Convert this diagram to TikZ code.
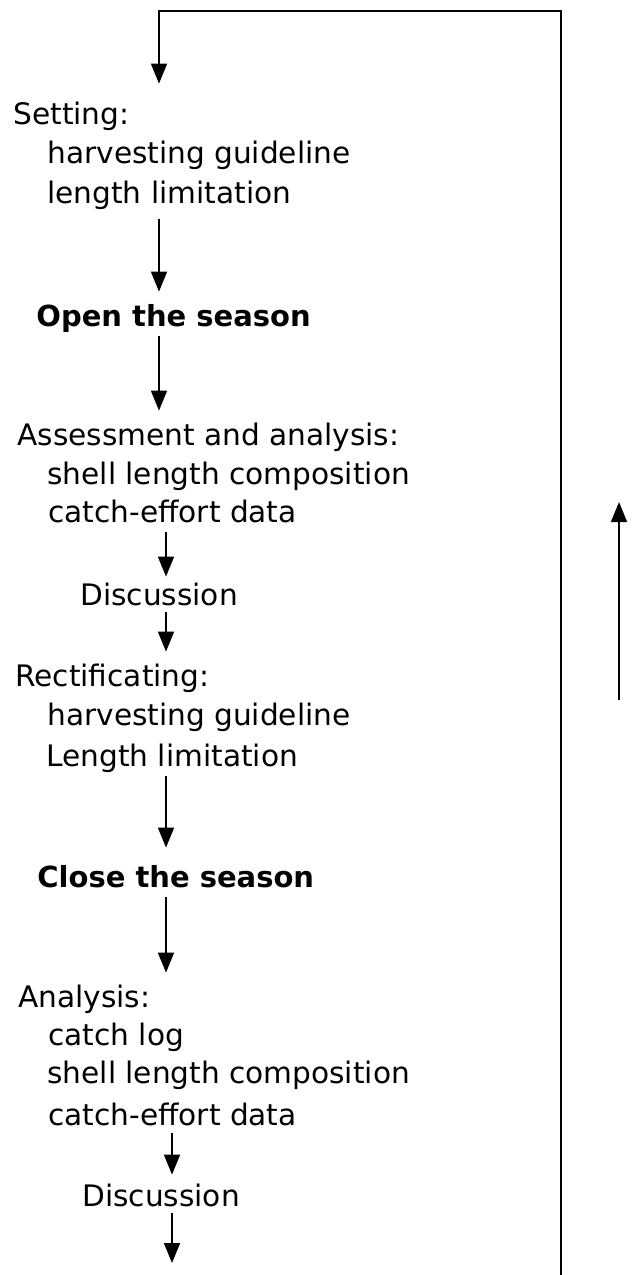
\documentclass[tikz,border=0pt]{standalone}
\usepackage{fontspec}
\setmainfont{DejaVu Sans}
\usetikzlibrary{arrows.meta}

\tikzset{
  txt/.style={anchor=base west, inner sep=0pt, font=\fontsize{14.8}{17}\selectfont,
    text height=11pt, text depth=3.5pt},
  hdr/.style={txt, font=\fontsize{14.5}{17}\selectfont\bfseries},
  flow/.style={line width=0.8pt, -{Triangle[width=8pt,length=10pt]},
    shorten <=1.5pt, shorten >=6pt},
}

\begin{document}
\begin{tikzpicture}[x=0.5pt, y=-0.5pt]
            \useasboundingbox (0,0) rectangle (636,1275);

            % columns of the arrows
            \coordinate (c1) at (159,0);
            \coordinate (c2) at (166,0);
            \coordinate (c3) at (172,0);

            \node[txt] (set0) at (13,124) {Setting:};
            \node[txt] (set1) at (47,163) {harvesting guideline};
            \node[txt] (set2) at (47,203) {length limitation};

            \node[hdr] (open) at (36,326) {Open the season};

            \node[txt] (ass0) at (17,445) {Assessment and analysis:};
            \node[txt] (ass1) at (47,484) {shell length composition};
            \node[txt] (ass2) at (48,522) {catch-effort data};

            \node[txt] (disc1) at (80,605) {Discussion};

            \node[txt] (rect0) at (15,686) {Rectificating:};
            \node[txt] (rect1) at (47,725) {harvesting guideline};
            \node[txt] (rect2) at (46,766) {Length limitation};

            \node[hdr] (close) at (37,887) {Close the season};

            \node[txt] (ana0) at (18,1007) {Analysis:};
            \node[txt] (ana1) at (48,1045) {catch log};
            \node[txt] (ana2) at (47,1083) {shell length composition};
            \node[txt] (ana3) at (48,1125) {catch-effort data};

            \node[txt] (disc2) at (82,1206) {Discussion};

            \draw[flow, shorten <=4.5pt] (set2.south -| c1) -- (open.north -| c1);
            \draw[flow] (open.south -| c1) -- (ass0.north -| c1);
            \draw[flow, shorten >=3pt] (ass2.south -| c2) -- (disc1.north -| c2);
            \draw[flow, shorten <=0pt] (disc1.south -| c2) -- (rect0.north -| c2);
            \draw[flow, shorten >=8.5pt] (rect2.south -| c2) -- (close.north -| c2);
            \draw[flow] (close.south -| c2) -- (ana0.north -| c2);
            \draw[flow, shorten <=0.5pt, shorten >=4.5pt] (ana3.south -| c3) -- (disc2.north -| c3);

            % feedback loop
            \coordinate (lb) at (172,1275);
            \coordinate (rb) at (561,1275);
            \coordinate (rt) at (561,11);
            \coordinate (lt) at (159,11);
            \draw[flow, shorten <=0pt] (disc2.south -| c3) -- (lb);
            \draw[flow, shorten <=0pt, shorten >=9pt] (rb) -- (rt) -- (lt) -- (set0.north -| lt);

            \coordinate (ub) at (619,700);
            \coordinate (ut) at (619,502);
            \draw[flow, shorten <=0pt, shorten >=0pt] (ub) -- (ut);
\end{tikzpicture}
\end{document}
